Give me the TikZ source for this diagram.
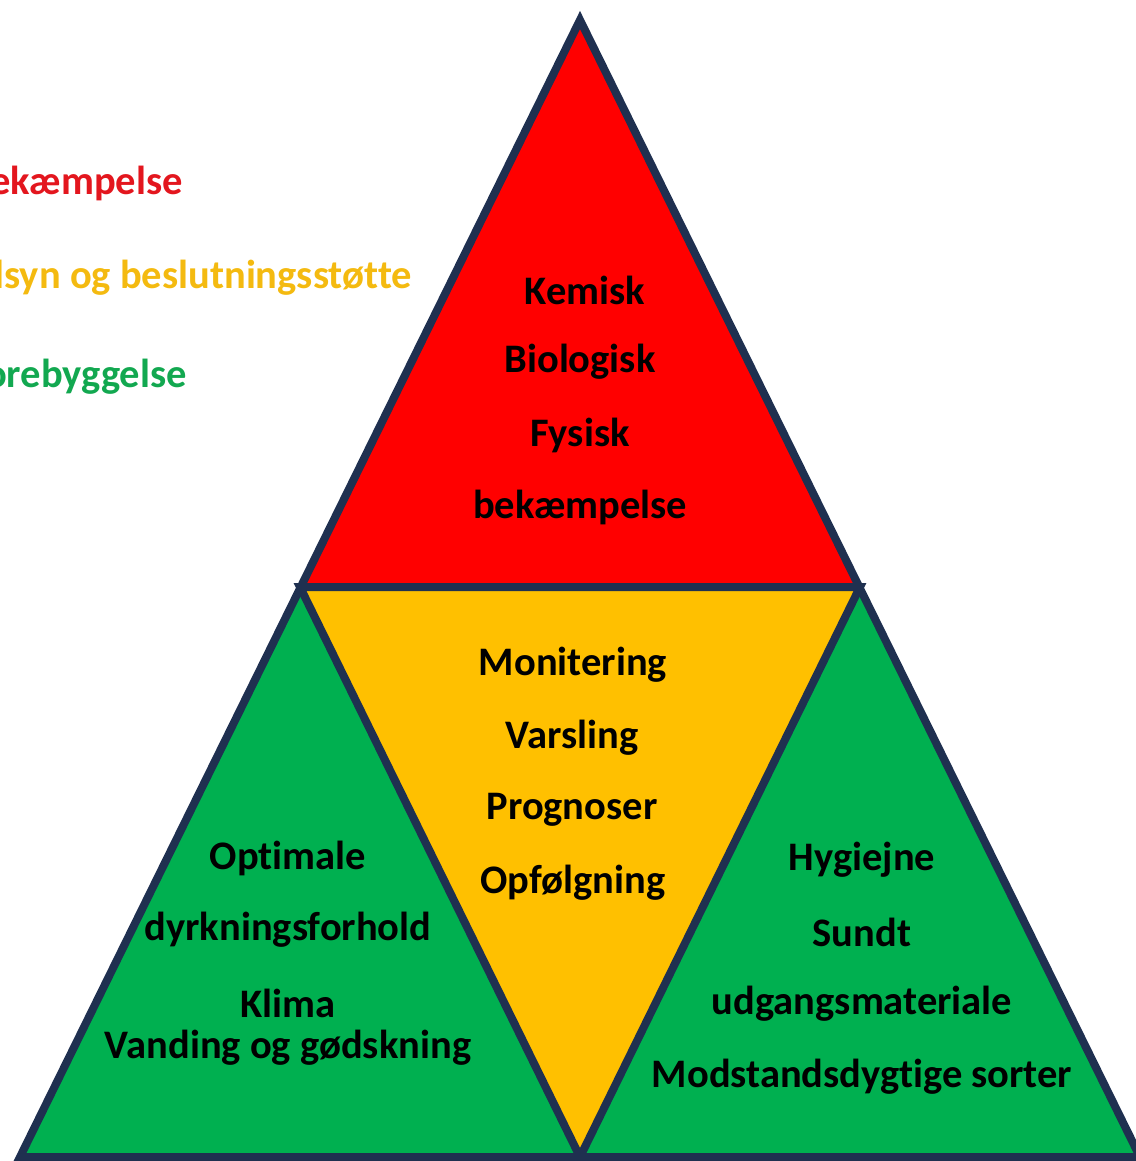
\documentclass[tikz,border=0pt]{standalone}
\usepackage{fontspec}
\setmainfont{Carlito}[Ligatures={NoCommon}]
\definecolor{navy}{HTML}{1F3050}
\definecolor{pred}{HTML}{FF0000}
\definecolor{pyel}{HTML}{FFC000}
\definecolor{pgrn}{HTML}{00B050}
\definecolor{lred}{HTML}{E3161E}
\definecolor{lyel}{HTML}{F4BA10}
\definecolor{lgrn}{HTML}{12A850}
\tikzset{
  lbl/.style={font=\fontsize{40.5}{44}\selectfont\bfseries, text=black, inner sep=0pt},
  side/.style={font=\fontsize{40.5}{44}\selectfont\bfseries, inner sep=0pt, anchor=east},
  edge/.style={draw=navy, line width=8pt, line join=miter}
}
\begin{document}
\begin{tikzpicture}[x=1pt,y=-1pt]
\useasboundingbox (0,0) rectangle (1135,1161);
\coordinate (A) at (580,20);
\coordinate (L) at (300,587);
\coordinate (R) at (860,587);
\coordinate (BL) at (20,1157);
\coordinate (BM) at (580,1157);
\coordinate (BR) at (1140,1157);
\fill[pred] (A) -- (L) -- (R) -- cycle;
\fill[pyel] (L) -- (R) -- (BM) -- cycle;
\fill[pgrn] (L) -- (BL) -- (BM) -- cycle;
\fill[pgrn] (R) -- (BM) -- (BR) -- cycle;
\draw[edge] (A) -- (BL) -- (BR) -- cycle;
\draw[edge] (L) -- (R) -- (BM) -- cycle;
% side labels
\node[side, text=lred] (s1) at (183,183) {ekæmpelse};
\node[side, text=lyel] (s2) at (412,278) {lsyn og beslutningsstøtte};
\node[side, text=lgrn] (s3) at (187,377) {orebyggelse};
% red
\node[lbl] (r1) at (585,290) {Kemisk};
\node[lbl] (r2) at (580,362) {Biologisk};
\node[lbl] (r3) at (580,435) {Fysisk};
\node[lbl] (r4) at (580,507) {bekæmpelse};
% yellow
\node[lbl] (y1) at (573,665) {Monitering};
\node[lbl] (y2) at (572,738) {Varsling};
\node[lbl] (y3) at (572,810) {Prognoser};
\node[lbl] (y4) at (573,883) {Opfølgning};
% left green
\node[lbl] (g1) at (288,858) {Optimale};
\node[lbl] (g2) at (288,930) {dyrkningsforhold};
\node[lbl] (g3) at (288,1003) {Klima};
\node[lbl] (g4) at (288,1048) {Vanding og gødskning};
% right green
\node[lbl] (h1) at (862,860) {Hygiejne};
\node[lbl] (h2) at (862,932) {Sundt};
\node[lbl] (h3) at (862,1004) {udgangsmateriale};
\node[lbl] (h4) at (862,1077) {Modstandsdygtige sorter};
\end{tikzpicture}
\end{document}
